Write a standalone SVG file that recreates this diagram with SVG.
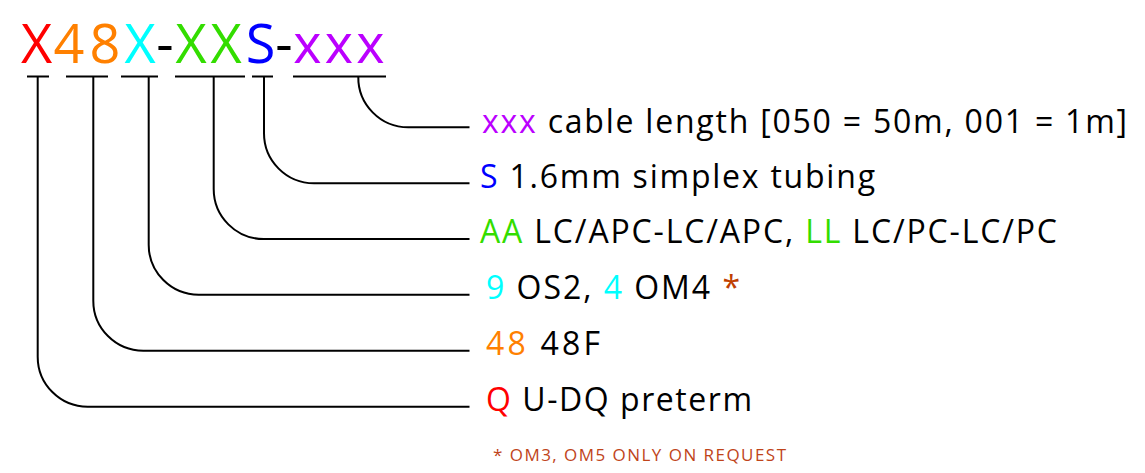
<svg xmlns="http://www.w3.org/2000/svg" width="1145" height="473" viewBox="0 0 1145 473">
<style>
.t{font-family:"Open Sans","Noto Sans",sans-serif;}
.title{font-size:54px;text-anchor:middle;}
.lbl{font-size:32px;fill:#000;}
.foot{font-size:17px;fill:#c0441a;}
.c{fill:none;stroke:#000;stroke-width:2;}
.red{fill:#ff0000}.org{fill:#ff8000}.cyn{fill:#00ffff}.grn{fill:#33dd00}.blu{fill:#0000ff}.pur{fill:#bb00ff}.ast{fill:#c04000}
</style>
<rect width="1145" height="473" fill="#fff"/>
<g id="code">
<text class="t title" y="63"><tspan class="red" x="36.5">X</tspan><tspan class="org" x="69">4</tspan><tspan class="org" x="105">8</tspan><tspan class="cyn" x="140">X</tspan><tspan x="165">-</tspan><tspan class="grn" x="191">X</tspan><tspan class="grn" x="226">X</tspan><tspan class="blu" x="260.5">S</tspan><tspan x="284">-</tspan><tspan class="pur" x="307.5">x</tspan><tspan class="pur" x="339">x</tspan><tspan class="pur" x="370.5">x</tspan></text>
</g>
<g id="connectors">
<path class="c" d="M27 76.5H49M66 76.5H108M121 76.5H158M175 76.5H245M252 76.5H273M293 76.5H386"/>
<path class="c" d="M37.7 76.5V356.7A50 50 0 0 0 87.7 406.7H469.5"/>
<path class="c" d="M93.3 76.5V300.7A50 50 0 0 0 143.3 350.7H469.5"/>
<path class="c" d="M148.7 76.5V244.7A50 50 0 0 0 198.7 294.7H469.5"/>
<path class="c" d="M213.7 76.5V189A50 50 0 0 0 263.7 239H469.5"/>
<path class="c" d="M264 76.5V133.3A50 50 0 0 0 314 183.3H469.5"/>
<path class="c" d="M358.3 76.5A50 50 0 0 0 408.3 127.3H469.5"/>
</g>
<g id="label-xxx"><text class="t lbl" x="482" y="132.5" textLength="645" lengthAdjust="spacing"><tspan class="pur">xxx</tspan> cable length [050 = 50m, 001 = 1m]</text></g>
<g id="label-S"><text class="t lbl" x="480" y="187.5" textLength="395" lengthAdjust="spacing"><tspan class="blu">S</tspan> 1.6mm simplex tubing</text></g>
<g id="label-AA"><text class="t lbl" x="480" y="243" textLength="577" lengthAdjust="spacing"><tspan class="grn">AA</tspan> LC/APC-LC/APC, <tspan class="grn">LL</tspan> LC/PC-LC/PC</text></g>
<g id="label-9"><text class="t lbl" x="486" y="298.5" textLength="254" lengthAdjust="spacing"><tspan class="cyn">9</tspan> OS2, <tspan class="cyn">4</tspan> OM4 <tspan class="ast">*</tspan></text></g>
<g id="label-48"><text class="t lbl" x="486" y="354.5" textLength="114" lengthAdjust="spacing"><tspan class="org">48</tspan> 48F</text></g>
<g id="label-Q"><text class="t lbl" x="486" y="410.5" textLength="266" lengthAdjust="spacing"><tspan class="red">Q</tspan> U-DQ preterm</text></g>
<g id="footnote"><text class="t foot" x="493" y="461" textLength="293" lengthAdjust="spacing">* OM3, OM5 ONLY ON REQUEST</text></g>
</svg>
